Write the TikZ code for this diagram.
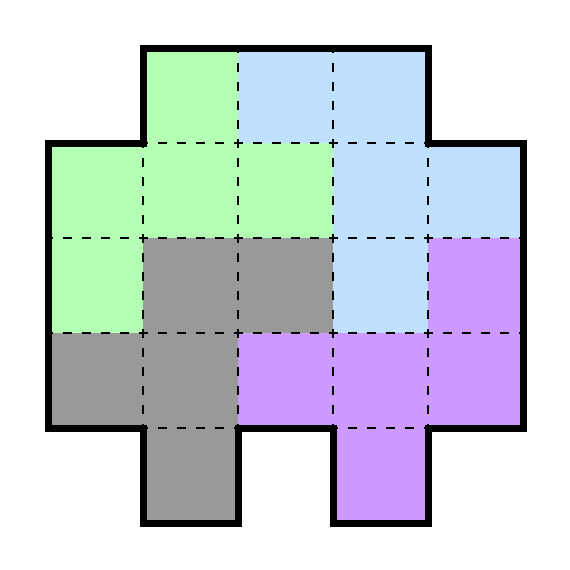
\documentclass[tikz,border=0pt]{standalone}
\usepackage{xcolor}
\usepackage{tikz}

\definecolor{regGreen}{RGB}{179,255,179}
\definecolor{regBlue}{RGB}{191,224,255}
\definecolor{regGray}{RGB}{153,153,153}
\definecolor{regPurple}{RGB}{204,153,255}

\begin{document}
\begin{tikzpicture}[
    cellfill/.style={fill=#1, draw=none},
    cellgrid/.style={draw=black, line width=0.7pt, dash pattern=on 2.7pt off 2.99pt, dash phase=1.35pt},
    outline/.style={draw=black, line width=2pt, line join=miter},
]
\useasboundingbox (-0.508,-0.492) rectangle (5.492,5.508);

% Cells (column, row from bottom, colour)
\foreach \cx/\cy/\cc in {
    1/4/regGreen, 2/4/regBlue, 3/4/regBlue,
    0/3/regGreen, 1/3/regGreen, 2/3/regGreen, 3/3/regBlue, 4/3/regBlue,
    0/2/regGreen, 1/2/regGray, 2/2/regGray, 3/2/regBlue, 4/2/regPurple,
    0/1/regGray, 1/1/regGray, 2/1/regPurple, 3/1/regPurple, 4/1/regPurple,
    1/0/regGray, 3/0/regPurple}
{
    \path[cellfill=\cc] (\cx,\cy) rectangle ++(1,1);
}

% Dashed cell edges (top and left of each cell)
\foreach \cx/\cy in {
    1/4, 2/4, 3/4,
    0/3, 1/3, 2/3, 3/3, 4/3,
    0/2, 1/2, 2/2, 3/2, 4/2,
    0/1, 1/1, 2/1, 3/1, 4/1,
    1/0, 3/0}
{
    \path[cellgrid] (\cx,\cy+1) -- ++(1,0);
    \path[cellgrid] (\cx,\cy) -- ++(0,1);
}

% Outer border
\path[outline] (1,5) -- (4,5) -- (4,4) -- (5,4) -- (5,1) -- (4,1) -- (4,0)
    -- (3,0) -- (3,1) -- (2,1) -- (2,0) -- (1,0) -- (1,1) -- (0,1)
    -- (0,4) -- (1,4) -- cycle;

\end{tikzpicture}
\end{document}
